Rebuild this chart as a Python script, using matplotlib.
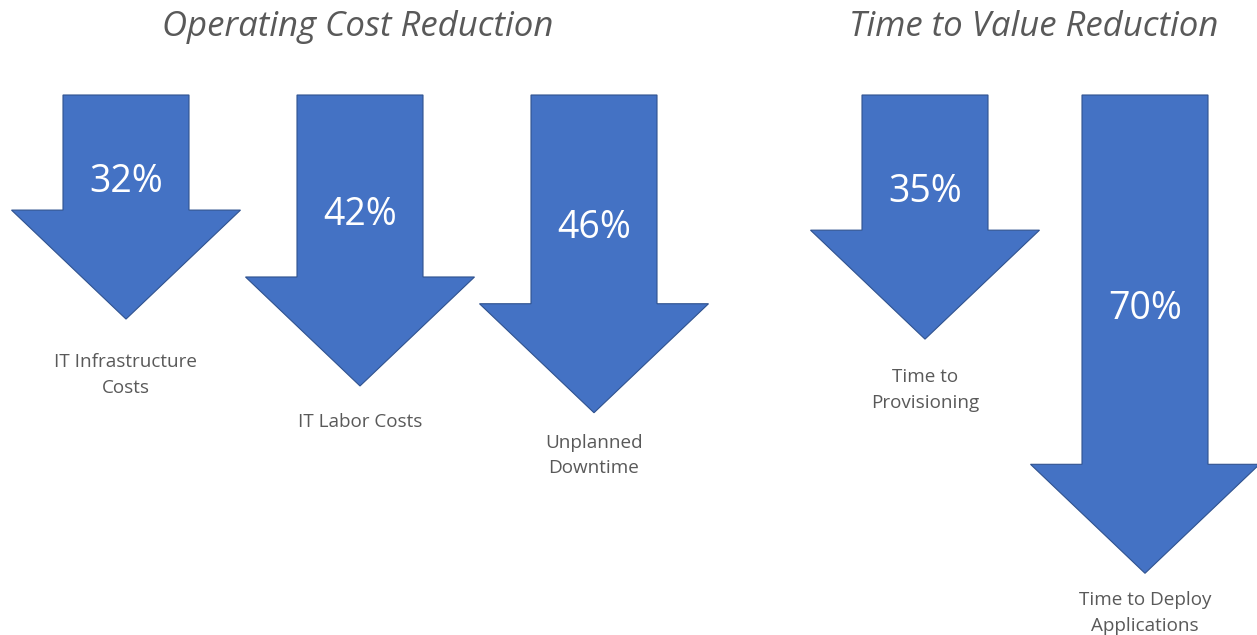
import matplotlib
matplotlib.use("Agg")
import matplotlib.pyplot as plt
from matplotlib.patches import Polygon

# values
group_titles = ["Operating Cost Reduction", "Time to Value Reduction"]
values = [32, 42, 46, 35, 70]
labels = ["IT Infrastructure\nCosts", "IT Labor Costs", "Unplanned\nDowntime",
          "Time to\nProvisioning", "Time to Deploy\nApplications"]

# layout (pixel units)
centers = [126, 360, 594, 925, 1145]
label_gap = [34, 27, 21, 29, 18]
title_x = [358, 1034]
TOP = 95
SHAFT_W = 126
HEAD_W = 229
HEAD_LEN = 109
PX_PER_PCT = 6.69
BASE = 10

FILL = "#4472C4"
EDGE = "#2F528F"
GRAY = "#595959"
FONT = "Open Sans"

fig = plt.figure(figsize=(12.57, 6.35), dpi=100)
ax = fig.add_axes([0, 0, 1, 1])
ax.set_xlim(0, 1257)
ax.set_ylim(635, 0)
ax.axis("off")

for cx, v, lab, gap in zip(centers, values, labels, label_gap):
    tip = TOP + BASE + v * PX_PER_PCT
    neck = tip - HEAD_LEN
    pts = [(cx - SHAFT_W / 2, TOP), (cx + SHAFT_W / 2, TOP), (cx + SHAFT_W / 2, neck),
           (cx + HEAD_W / 2, neck), (cx, tip), (cx - HEAD_W / 2, neck),
           (cx - SHAFT_W / 2, neck)]
    ax.add_patch(Polygon(pts, closed=True, facecolor=FILL, edgecolor=EDGE, lw=0.8))
    ax.text(cx, (TOP + neck) / 2 + 29, f"{v}%", color="white", fontsize=27,
            family=FONT, ha="center", va="center")
    ax.text(cx, tip + gap, lab, color=GRAY, fontsize=13.6, family=FONT,
            ha="center", va="top", linespacing=1.55)

for tx, t in zip(title_x, group_titles):
    ax.text(tx, 27, t, color=GRAY, fontsize=25, family=FONT, style="italic",
            ha="center", va="center")

fig.savefig("out.png", dpi=100)
